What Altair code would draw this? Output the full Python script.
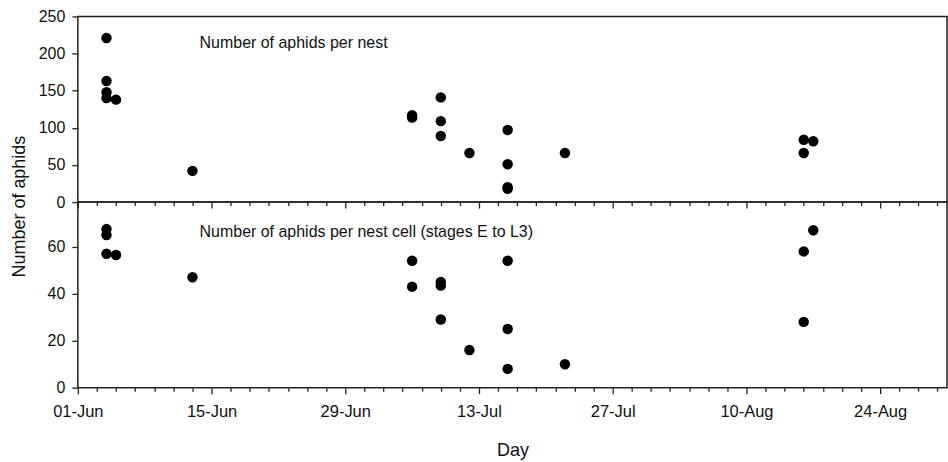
import altair as alt
import pandas as pd

# ---- data ----
nest_dates = ["2009-06-04", "2009-06-04", "2009-06-04", "2009-06-04", "2009-06-05",
              "2009-06-13", "2009-07-06", "2009-07-06", "2009-07-09", "2009-07-09",
              "2009-07-09", "2009-07-12", "2009-07-16", "2009-07-16", "2009-07-16",
              "2009-07-16", "2009-07-22", "2009-08-16", "2009-08-16", "2009-08-17"]
nest_values = [221, 163, 148, 140, 138,
               42, 114, 117, 141, 109,
               89, 66, 97, 51, 18,
               20, 66, 84, 66, 82]

cell_dates = ["2009-06-04", "2009-06-04", "2009-06-04", "2009-06-05",
              "2009-06-13", "2009-07-06", "2009-07-06", "2009-07-09", "2009-07-09",
              "2009-07-09", "2009-07-12", "2009-07-16", "2009-07-16", "2009-07-16",
              "2009-07-22", "2009-08-16", "2009-08-16", "2009-08-17"]
cell_values = [67.5, 65, 57, 56.5,
               47, 54, 43, 45, 43.5,
               29, 16, 54, 25, 8,
               10, 58, 28, 67]

start = pd.Timestamp("2009-06-01")
x_ticks = list(range(0, 91, 2))
top_ticks = [0, 50, 100, 150, 200, 250]
bot_ticks = [0, 20, 40, 60]
top_label = "Number of aphids per nest"
bot_label = "Number of aphids per nest cell (stages E to L3)"

def frame(dates, vals):
    d = pd.to_datetime(pd.Series(dates))
    return pd.DataFrame({"day": (d - start).dt.days, "n": vals})

nest_df = frame(nest_dates, nest_values)
cell_df = frame(cell_dates, cell_values)

FONT = "Liberation Sans"
W, H = 871, 186
xscale = alt.Scale(domain=[0, 91], nice=False, zero=False)
tick_size = {"condition": {"test": "datum.value % 14 === 0", "value": 6}, "value": 3.5}
label_expr = ("datum.value % 14 === 0 ? "
              "timeFormat(datetime(2009, 5, 1 + datum.value), '%d-%b') : ''")

x_top = alt.X("day:Q", scale=xscale,
              axis=alt.Axis(values=x_ticks, labels=False, title=None, tickSize=tick_size,
                            grid=False, domain=False))
x_bot = alt.X("day:Q", scale=xscale,
              axis=alt.Axis(values=x_ticks, labelExpr=label_expr, title="Day",
                            tickSize=tick_size, grid=False, domain=False,
                            labelOverlap=False, labelFlush=False, labelPadding=10,
                            labelFontSize=16.5,
                            titlePadding=21, titleFontSize=18, titleFontWeight="normal"))

pts_top = alt.Chart(nest_df).mark_circle(size=110, color="black", opacity=1).encode(
    x=x_top,
    y=alt.Y("n:Q", scale=alt.Scale(domain=[0, 250], nice=False),
            axis=alt.Axis(values=top_ticks, grid=False, domain=False, tickSize=6,
                          labelPadding=7,
                          title="Number of aphids", titleFontSize=18,
                          titleFontWeight="normal", titleAngle=-90,
                          titleAlign="center", titleBaseline="middle",
                          titleX=-58, titleY=190)),
)
txt_top = alt.Chart(pd.DataFrame({"t": [top_label]})).mark_text(
    align="left", baseline="middle", fontSize=16, font=FONT, color="#111"
).encode(text="t:N", x=alt.value(122), y=alt.value(27))

pts_bot = alt.Chart(cell_df).mark_circle(size=110, color="black", opacity=1).encode(
    x=x_bot,
    y=alt.Y("n:Q", scale=alt.Scale(domain=[0, 79], nice=False),
            axis=alt.Axis(values=bot_ticks, grid=False, domain=False, tickSize=6,
                          labelPadding=7, title=None)),
)
txt_bot = alt.Chart(pd.DataFrame({"t": [bot_label]})).mark_text(
    align="left", baseline="middle", fontSize=16, font=FONT, color="#111"
).encode(text="t:N", x=alt.value(122), y=alt.value(30))

top = alt.layer(pts_top, txt_top).properties(width=W, height=H)
bot = alt.layer(pts_bot, txt_bot).properties(width=W, height=H)

chart = alt.vconcat(top, bot, spacing=0, bounds="flush").properties(
    padding={"left": 10, "top": 7, "right": 0, "bottom": 5},
    background="white",
).configure_view(
    stroke="#222", strokeWidth=1.5
).configure_axis(
    labelFont=FONT, titleFont=FONT, labelFontSize=16, labelColor="#111",
    titleColor="#111", tickColor="#222", tickWidth=1.3,
)

chart.save("out.html", embed_options={"renderer": "svg", "actions": False})
